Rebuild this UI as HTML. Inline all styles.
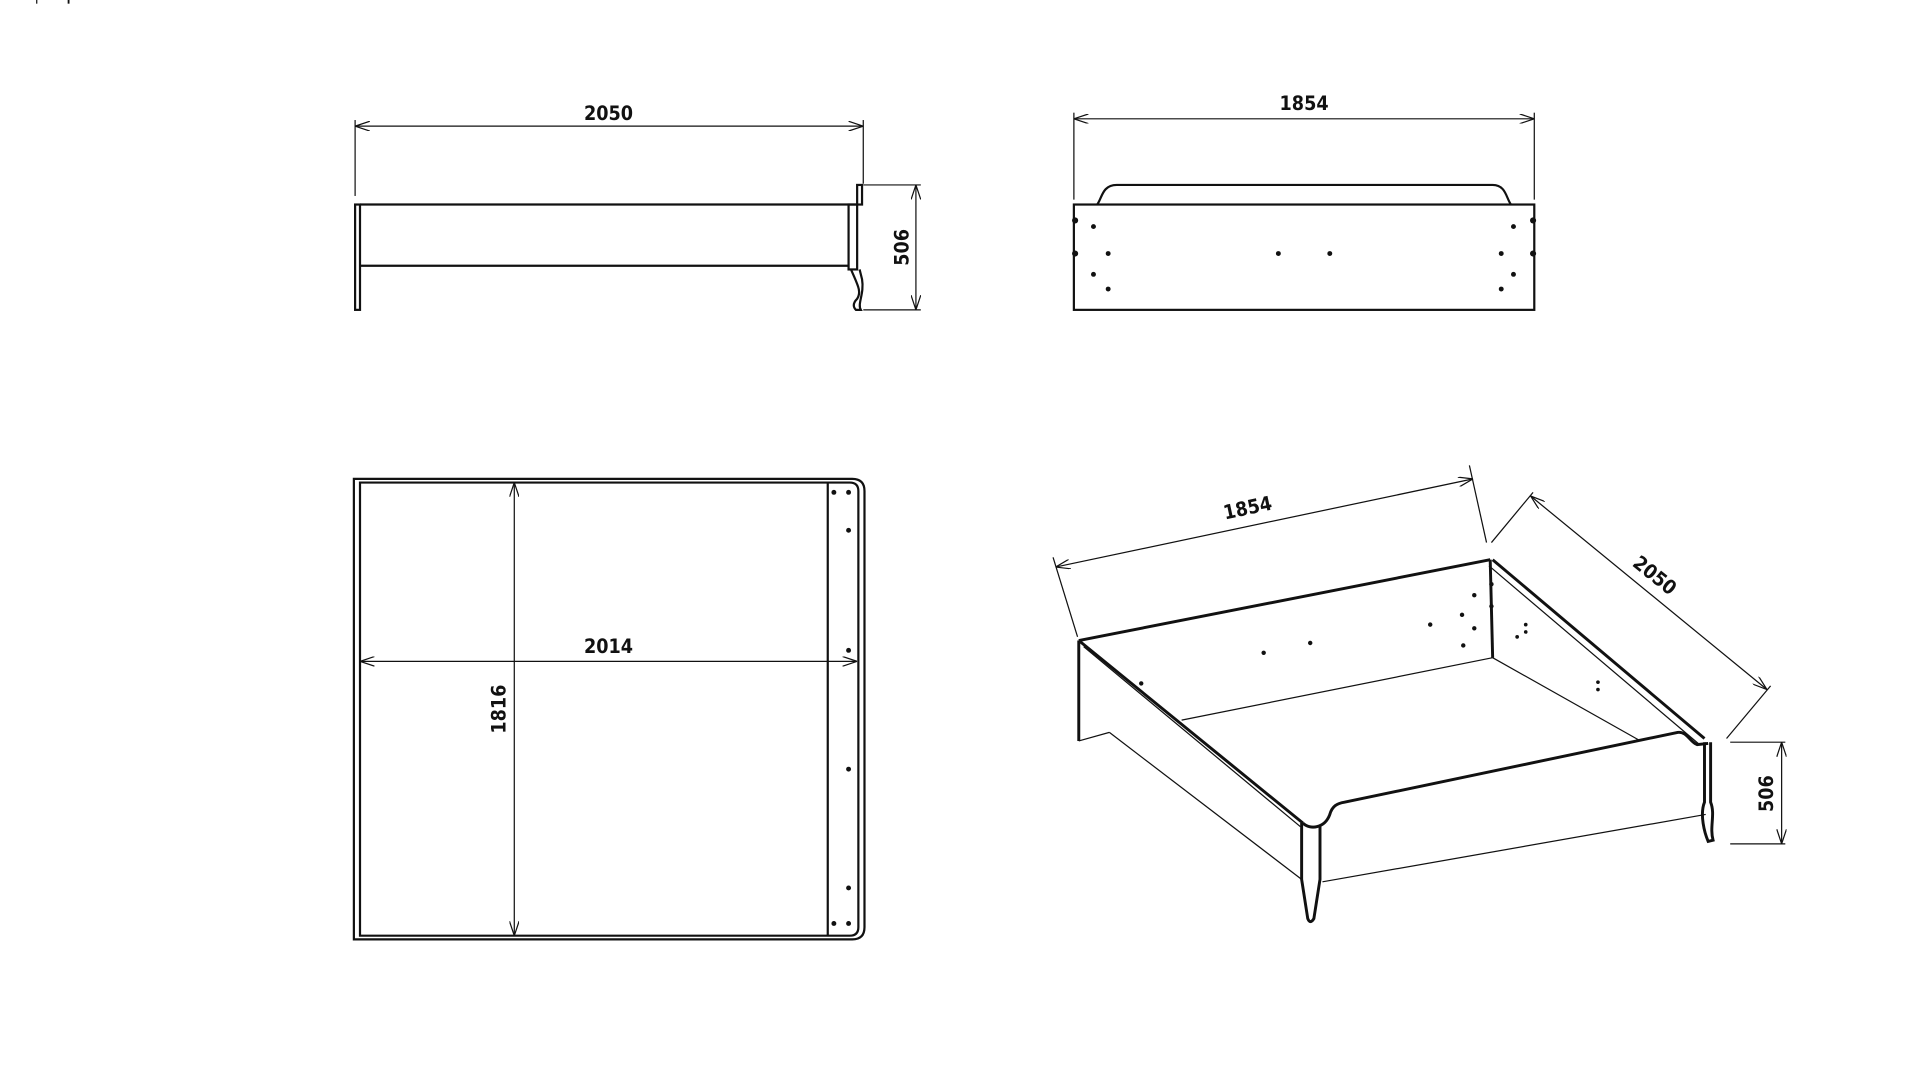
<!DOCTYPE html>
<html><head><meta charset="utf-8"><style>
html,body{margin:0;padding:0;background:#fff;}
svg{display:block;}
text{font-family:"DejaVu Sans Condensed","Liberation Sans",sans-serif;font-size:16px;fill:#111;font-weight:bold;}
</style></head><body>
<svg width="1920" height="1079" viewBox="0 0 1568 881" preserveAspectRatio="none" xmlns="http://www.w3.org/2000/svg">
<defs>
<marker id="a" viewBox="0 0 12 8" refX="12" refY="4" markerWidth="12" markerHeight="8" orient="auto-start-reverse" markerUnits="userSpaceOnUse">
<path d="M0,0 L12,4 L0,8" fill="none" stroke="#111" stroke-width="1"/>
</marker>
</defs>
<g fill="none" stroke="#111" stroke-width="1">
<line x1="290" y1="103" x2="705" y2="103" marker-start="url(#a)" marker-end="url(#a)"/>
<line x1="290" y1="98" x2="290" y2="160"/>
<line x1="705" y1="98" x2="705" y2="150"/>
<line x1="705" y1="151" x2="752" y2="151"/>
<line x1="705" y1="253" x2="752" y2="253"/>
<line x1="748" y1="151" x2="748" y2="253" marker-start="url(#a)" marker-end="url(#a)"/>
</g>
<g fill="none" stroke="#111" stroke-width="1.8">
<rect x="290" y="167" width="4" height="86"/>
<line x1="294" y1="167" x2="700" y2="167"/>
<line x1="294" y1="217" x2="693" y2="217"/>
<rect x="693" y="167" width="7" height="53"/>
<rect x="700" y="151" width="4" height="16"/>
<path d="M695,220 C700,232 704,238 700,244 C696,248 697,251 699,253 L703,253 C700,248 706,240 704,228 L702,220"/>
</g>
<text x="497" y="98" text-anchor="middle">2050</text>
<text transform="translate(742,202) rotate(-90)" text-anchor="middle">506</text>
<g fill="none" stroke="#111" stroke-width="1">
<line x1="877" y1="97" x2="1253" y2="97" marker-start="url(#a)" marker-end="url(#a)"/>
<line x1="877" y1="92" x2="877" y2="163"/>
<line x1="1253" y1="92" x2="1253" y2="163"/>
</g>
<g fill="none" stroke="#111" stroke-width="1.8">
<rect x="877" y="167" width="376" height="86"/>
<path d="M896,167 C900,162 900,151 912,151 L1219,151 C1230,151 1230,162 1234,167"/>
</g>
<text x="1065" y="90" text-anchor="middle">1854</text>
<g fill="#111">
<circle cx="893" cy="185" r="2"/><circle cx="905" cy="207" r="2"/><circle cx="893" cy="224" r="2"/><circle cx="905" cy="236" r="2"/>
<circle cx="1044" cy="207" r="2"/><circle cx="1086" cy="207" r="2"/>
<circle cx="1236" cy="185" r="2"/><circle cx="1226" cy="207" r="2"/><circle cx="1236" cy="224" r="2"/><circle cx="1226" cy="236" r="2"/>
<circle cx="878" cy="180" r="2.5"/><circle cx="878" cy="207" r="2.5"/><circle cx="1252" cy="180" r="2.5"/><circle cx="1252" cy="207" r="2.5"/>
</g>
<g fill="none" stroke="#111" stroke-width="1.8">
<path d="M289,391 L696,391 Q706,391 706,401 L706,757 Q706,767 696,767 L289,767 Z"/>
<path d="M294,394 L694,394 Q701,394 701,401 L701,757 Q701,764 694,764 L294,764 Z"/>
<line x1="676" y1="394" x2="676" y2="764"/>
</g>
<g fill="none" stroke="#111" stroke-width="1">
<line x1="294" y1="540" x2="700" y2="540" marker-start="url(#a)" marker-end="url(#a)"/>
<line x1="420" y1="394" x2="420" y2="764" marker-start="url(#a)" marker-end="url(#a)"/>
</g>
<text x="497" y="533" text-anchor="middle">2014</text>
<text transform="translate(413,579) rotate(-90)" text-anchor="middle">1816</text>
<g fill="#111">
<circle cx="693" cy="402" r="2"/><circle cx="693" cy="433" r="2"/><circle cx="693" cy="531" r="2"/><circle cx="693" cy="628" r="2"/><circle cx="693" cy="725" r="2"/><circle cx="693" cy="754" r="2"/>
<circle cx="681" cy="402" r="2"/><circle cx="681" cy="754" r="2"/>
</g>
<g fill="none" stroke="#111" stroke-width="1">
<line x1="862" y1="463" x2="1203" y2="391" marker-start="url(#a)" marker-end="url(#a)"/>
<line x1="860" y1="455" x2="880" y2="520"/>
<line x1="1200" y1="380" x2="1214" y2="443"/>
<line x1="1250" y1="405" x2="1443" y2="563" marker-start="url(#a)" marker-end="url(#a)"/>
<line x1="1218" y1="443" x2="1252" y2="402"/>
<line x1="1410" y1="603" x2="1446" y2="560"/>
<line x1="1413" y1="606" x2="1458" y2="606"/>
<line x1="1413" y1="689" x2="1458" y2="689"/>
<line x1="1455" y1="606" x2="1455" y2="689" marker-start="url(#a)" marker-end="url(#a)"/>
<line x1="1216" y1="462" x2="1388" y2="608"/>
<line x1="1219" y1="537" x2="1338" y2="604"/>
<line x1="1219" y1="537" x2="965" y2="588"/>
<line x1="881" y1="605" x2="906" y2="598"/>
<line x1="906" y1="598" x2="1063" y2="718"/>
<line x1="1080" y1="720" x2="1393" y2="665"/>
<line x1="885" y1="528" x2="1062" y2="675"/>
</g>
<g fill="none" stroke="#111" stroke-width="2.4">
<line x1="881" y1="523" x2="1217" y2="457"/>
<line x1="881" y1="523" x2="881" y2="605"/>
<line x1="1217" y1="457" x2="1219" y2="537"/>
<line x1="881" y1="523" x2="1064" y2="672"/>
<line x1="1219" y1="457" x2="1392" y2="603"/>
<path d="M1064,672 C1070,678 1082,676 1086,665 C1088,658 1092,656 1098,655 L1370,598 C1378,597 1380,606 1386,608 L1395,607"/>
<path d="M1063,672 L1063,718 L1068,750 Q1070,755 1073,750 L1078,718 L1078,674"/>
<path d="M1392,606 L1392,655 C1388,665 1392,680 1395,687 L1399,686 C1396,675 1401,665 1397,655 L1397,606"/>
</g>
<text transform="translate(1020,420) rotate(-12)" text-anchor="middle">1854</text>
<text transform="translate(1348,474) rotate(39)" text-anchor="middle">2050</text>
<text transform="translate(1448,648) rotate(-90)" text-anchor="middle">506</text>
<g fill="#111">
<circle cx="932" cy="558" r="1.8"/><circle cx="1032" cy="533" r="1.8"/><circle cx="1070" cy="525" r="1.8"/>
<circle cx="1168" cy="510" r="1.8"/><circle cx="1194" cy="502" r="1.8"/><circle cx="1204" cy="486" r="1.8"/><circle cx="1204" cy="513" r="1.8"/><circle cx="1195" cy="527" r="1.8"/>
<circle cx="1218" cy="477" r="1.8"/><circle cx="1218" cy="495" r="1.8"/>
<circle cx="1246" cy="510" r="1.5"/><circle cx="1246" cy="516" r="1.5"/><circle cx="1239" cy="520" r="1.5"/>
<circle cx="1305" cy="557" r="1.5"/><circle cx="1305" cy="563" r="1.5"/>
</g>
<line x1="30" y1="0" x2="30" y2="3" stroke="#111" stroke-width="1"/>
<line x1="56" y1="0" x2="56" y2="3" stroke="#111" stroke-width="1.5"/>
</svg>
</body></html>
